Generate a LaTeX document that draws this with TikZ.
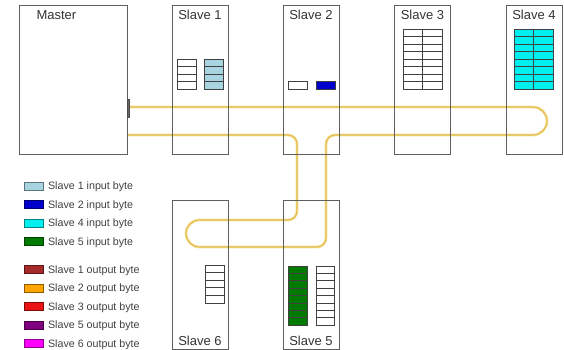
\documentclass[tikz,border=0pt]{standalone}
\usepackage{fontspec}
\setmainfont{Liberation Sans}
\usetikzlibrary{positioning}
\definecolor{boxgray}{RGB}{95,95,95}
\definecolor{buscol}{RGB}{228,188,78}
\definecolor{busglow}{RGB}{246,226,160}
\definecolor{inlightblue}{RGB}{168,212,226}
\definecolor{inblue}{RGB}{0,0,205}
\definecolor{incyan}{RGB}{0,240,240}
\definecolor{ingreen}{RGB}{0,122,0}
\definecolor{outbrown}{RGB}{165,42,42}
\definecolor{outorange}{RGB}{255,165,0}
\definecolor{outred}{RGB}{235,20,20}
\definecolor{outpurple}{RGB}{128,0,128}
\definecolor{outmagenta}{RGB}{255,0,255}
\tikzset{
    unit/.style={draw=boxgray, line width=0.9pt, minimum width=56pt, minimum height=149pt, inner sep=0pt},
    unitname/.style={anchor=base, font=\fontsize{13}{15}\selectfont, text=black!80},
    cell/.style={draw=black!75, line width=0.65pt},
    swatch/.style={draw=#1!55!black, fill=#1, minimum width=19pt, minimum height=8pt, inner sep=0pt, line width=0.7pt},
    keytext/.style={anchor=base west, inner sep=0pt, font=\fontsize{10.7}{12}\selectfont, text=black!75},
    busglowline/.style={line width=2.8pt, busglow},
    busline/.style={line width=1.1pt, buscol}
}

\begin{document}
\begin{tikzpicture}[x=1pt, y=-1pt]
    \useasboundingbox (0, 0) rectangle (564, 349);
    % ring bus
    \foreach \sty in {busglowline, busline}
        \draw[\sty] (128, 107) [rounded corners=14pt] -- (547, 107) -- (547, 135)
            [rounded corners=9pt] -- (326, 135) -- (326, 247)
            [rounded corners=13.5pt] -- (186, 247) -- (186, 220)
            [rounded corners=9pt] -- (297, 220) -- (297, 135) [sharp corners] -- (128, 135);

    % units
    \node[unit, minimum width=108pt] (master) at (73, 79.5) {};
    \node[unit] (slave1) at (200, 79.5) {};
    \node[unit] (slave2) at (311, 79.5) {};
    \node[unit] (slave3) at (422.5, 79.5) {};
    \node[unit] (slave4) at (534, 79.5) {};
    \node[unit] (slave6) at (200, 274.5) {};
    \node[unit] (slave5) at (311, 274.5) {};
    \draw[fill=black!60, draw=black!70, line width=0.4pt] (127, 99) rectangle (129.5, 117);

    \node[unitname, anchor=base west] (masterlbl) at (33, 19) {Master};
    \node[unitname] (slave1lbl) at (200, 19.5) {Slave 1};
    \node[unitname] (slave2lbl) at (311, 19.5) {Slave 2};
    \node[unitname] (slave3lbl) at (422.5, 19.5) {Slave 3};
    \node[unitname] (slave4lbl) at (534, 19.5) {Slave 4};
    \node[unitname] (slave6lbl) at (200, 345) {Slave 6};
    \node[unitname] (slave5lbl) at (311, 345) {Slave 5};

    % byte tables
    \foreach \r in {0,...,3} {
        \draw[cell, fill=white] (177, 59+7.5*\r) rectangle +(19, 7.5);
        \draw[cell, fill=inlightblue] (204.5, 59+7.5*\r) rectangle +(19, 7.5);
    }
    \draw[cell, fill=white] (288, 81) rectangle +(19, 8);
    \draw[cell, fill=inblue] (316, 81) rectangle +(19, 8);
    \foreach \r in {0,...,7} {
        \draw[cell, fill=white] (403, 29+7.5*\r) rectangle +(19.5, 7.5);
        \draw[cell, fill=white] (422.5, 29+7.5*\r) rectangle +(19.5, 7.5);
        \draw[cell, fill=incyan] (514, 29+7.5*\r) rectangle +(19.5, 7.5);
        \draw[cell, fill=incyan] (533.5, 29+7.5*\r) rectangle +(19.5, 7.5);
        \draw[cell, fill=ingreen] (288, 266+7.4*\r) rectangle +(19, 7.4);
        \draw[cell, fill=white] (316, 266+7.4*\r) rectangle +(18.5, 7.4);
    }
    \foreach \r in {0,...,4}
        \draw[cell, fill=white] (205, 265+7.6*\r) rectangle +(19, 7.6);

    % legend
    \foreach \col/\txt/\y [count=\k] in {
        inlightblue/Slave 1 input byte/186,
        inblue/Slave 2 input byte/204.5,
        incyan/Slave 4 input byte/223,
        ingreen/Slave 5 input byte/241.5,
        outbrown/Slave 1 output byte/269.5,
        outorange/Slave 2 output byte/288,
        outred/Slave 3 output byte/306.5,
        outpurple/Slave 5 output byte/325,
        outmagenta/Slave 6 output byte/343.5} {
        \node[swatch=\col] (key\k) at (33.5, \y) {};
        \node[keytext] (keytxt\k) at ([xshift=4.5pt, yshift=-3.8pt]key\k.east) {\txt};
    }
\end{tikzpicture}
\end{document}
